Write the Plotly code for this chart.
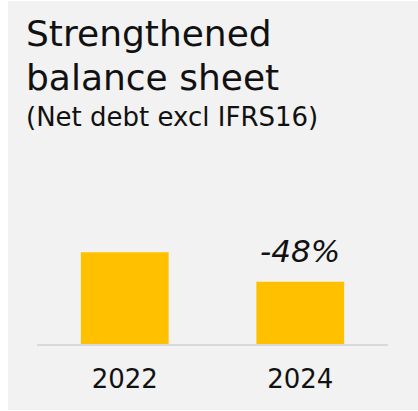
import plotly.graph_objects as go

# Net debt excluding IFRS16, indexed to 2022 = 100
years = ["2022", "2024"]
net_debt = [100, 68]
change_label = "-48%"
title_lines = ["Strengthened", "balance sheet"]
subtitle = "(Net debt excl IFRS16)"

W, H = 418, 411
M_L, M_R, M_T, M_B = 37, 30, 200, 67
PLOT_H = H - M_T - M_B
PLOT_W = W - M_L - M_R

FONT = "DejaVu Sans"
INK = "#111111"
BAR = "#FFC000"
PANEL = "#F2F2F2"


def px_x(px):
    return (px - M_L) / PLOT_W


def px_y(py):
    return (H - M_B - py) / PLOT_H


fig = go.Figure(
    go.Bar(
        x=years,
        y=net_debt,
        width=[0.5] * len(years),
        marker=dict(color=BAR, line=dict(width=0)),
        hoverinfo="skip",
    )
)

fig.add_annotation(
    x=1, y=net_debt[1], xref="x", yref="y",
    text=change_label, showarrow=False,
    yanchor="bottom", yshift=11,
    font=dict(family=FONT, size=31, color=INK, style="italic"),
)

# title, one annotation per line so the line spacing can be set exactly
for i, line in enumerate(title_lines):
    fig.add_annotation(
        x=px_x(24), y=px_y(11 + 43.5 * i), xref="paper", yref="paper",
        text=line, showarrow=False,
        xanchor="left", yanchor="top", align="left",
        font=dict(family=FONT, size=36, color=INK),
    )
fig.add_annotation(
    x=px_x(24), y=px_y(100), xref="paper", yref="paper",
    text=subtitle, showarrow=False,
    xanchor="left", yanchor="top", align="left",
    font=dict(family=FONT, size=26, color=INK),
)

fig.add_shape(
    type="rect", xref="paper", yref="paper",
    x0=px_x(8), x1=px_x(W + 2), y0=px_y(410), y1=px_y(1),
    fillcolor=PANEL, line=dict(width=0), layer="below",
)

fig.update_layout(
    width=W, height=H,
    margin=dict(l=M_L, r=M_R, t=M_T, b=M_B, pad=0, autoexpand=False),
    paper_bgcolor="white",
    plot_bgcolor="rgba(0,0,0,0)",
    showlegend=False,
)
fig.update_xaxes(
    type="category", range=[-0.5, 1.5], automargin=False,
    showgrid=False, zeroline=False,
    showline=True, linecolor="#D9D9D9", linewidth=2,
    ticks="", ticklabelstandoff=11,
    tickfont=dict(family=FONT, size=26, color=INK),
    fixedrange=True,
)
fig.update_yaxes(range=[0, PLOT_H / 0.917], visible=False, fixedrange=True)

fig.write_html("out.html", config=dict(displayModeBar=False))
